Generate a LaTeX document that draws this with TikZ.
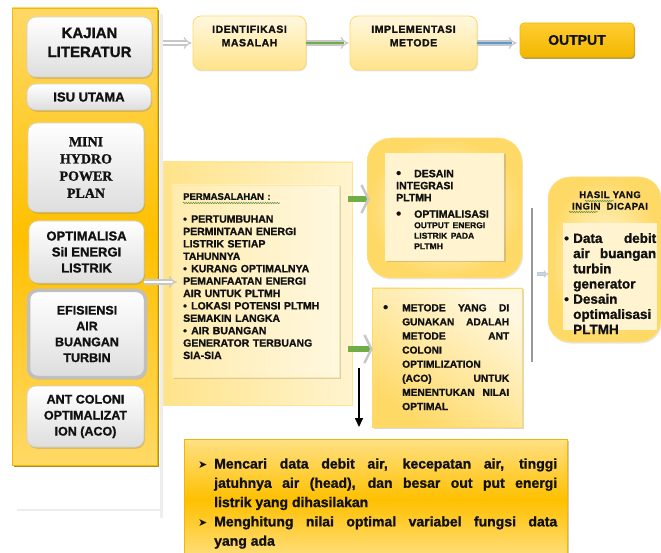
\documentclass[tikz,border=0pt]{standalone}
\usepackage{fontspec}
\setmainfont{Liberation Sans}[BoldFont={Liberation Sans Bold}]
\newfontfamily\serifbf{Liberation Serif Bold}[FakeBold=1.2]
\newfontfamily\dejavu{DejaVu Sans}
\newfontfamily\spaced{Liberation Sans Bold}[LetterSpace=5,FakeBold=1.2]
\newfontfamily\sansbold{Liberation Sans Bold}[FakeBold=1.2]
\usetikzlibrary{shadows,arrows.meta,decorations.pathmorphing}
\newcommand\fz[2]{\fontsize{#1}{#2}\selectfont}
\newcommand\bitem[1]{\par\hangindent=#1\hangafter=1\noindent\makebox[#1][l]{\textbullet}}
\newcommand\Bitem[1]{\par\hangindent=#1\hangafter=1\noindent\makebox[#1][l]{\raisebox{-0.5pt}{\fontsize{14}{14}\selectfont\textbullet}}}
\newcommand\aitem[1]{\par\hangindent=#1\hangafter=1\noindent\makebox[#1][l]{{\dejavu\fz{11}{11}➤}}}
\definecolor{or1}{HTML}{FFD966}
\definecolor{or2}{HTML}{FFC000}
\definecolor{or3}{HTML}{F2B700}
\definecolor{dkgold}{HTML}{9C7A00}
\definecolor{ly1}{HTML}{FFF8E0}
\definecolor{ly2}{HTML}{FFE38A}
\definecolor{lyc}{HTML}{FFF4CF}
\definecolor{grn}{HTML}{70AD47}
\definecolor{blu}{HTML}{5B9BD5}
\definecolor{txt}{HTML}{111111}
\begin{document}
\begin{tikzpicture}[x=1pt,y=-1pt,
  colbox/.style={rectangle, top color=or1, bottom color=or1, middle color=or2, draw=or3, line width=0.5pt,
    drop shadow={shadow xshift=1.8pt, shadow yshift=-1.8pt, opacity=0.85, fill=dkgold}},
  graybox/.style={rectangle, rounded corners=9pt, top color=white, bottom color=black!13, draw=black!18, line width=0.6pt,
    drop shadow={shadow xshift=1pt, shadow yshift=-1.8pt, opacity=0.3}, align=center, text=txt, inner sep=0pt},
  ybox/.style={rectangle, rounded corners=8pt, top color=ly1, bottom color=ly2, draw=or1, line width=0.8pt,
    drop shadow={shadow xshift=1pt, shadow yshift=-1.5pt, opacity=0.2}},
  obox/.style={rectangle, rounded corners=4pt, top color=or2!80!white, bottom color=or3, draw=or3, line width=0.6pt,
    drop shadow={shadow xshift=1.2pt, shadow yshift=-2pt, opacity=0.7, fill=dkgold}},
  darrow/.style={draw=black!22, double=#1, double distance=2.8pt, line width=1.2pt, -{Implies}},
  fatarrow/.style={draw=grn, line width=6pt, -{Straight Barb[length=7pt,width=28pt,line width=2.4pt,color=black!22]}},
  txtnode/.style={inner sep=0pt, anchor=north west, align=left, text=txt},
  wavy/.style={draw=grn!80!black, line width=0.5pt, decorate, decoration={snake, amplitude=0.7pt, segment length=2.4pt}},
  framel/.style={draw=black!7, line width=2.5pt},
]
\useasboundingbox (0,0) rectangle (661,553);
\fill[white] (0,0) rectangle (661,553);

% ---------- left column ----------
\draw[framel] (17,510) -- (161.5,510);
\draw[framel] (161.5,14) -- (161.5,518);
\node[colbox, minimum width=145pt, minimum height=457pt] (col) at (84.5,236.5) {};

\node[graybox, minimum width=125pt, minimum height=60pt] (kajian) at (89.5,47) {};
\node[inner sep=0pt, align=center, font=\sansbold\fz{15}{19}, text=txt] (kajianT) at (89.5,42.5) {KAJIAN\\LITERATUR};
\node[graybox, minimum width=124pt, minimum height=26pt, font=\sansbold\fz{13}{15}] (isu) at (89,97) {ISU UTAMA};
\node[graybox, minimum width=116pt, minimum height=89pt, font=\serifbf\fz{14}{17.2}] (mini) at (86,167.5) {MINI\\HYDRO\\POWER\\PLAN};
\node[graybox, minimum width=115pt, minimum height=62pt, font=\sansbold\fz{13}{16}] (optim) at (86.5,252) {OPTIMALISA\\SiI ENERGI\\LISTRIK};
\node[graybox, draw=black!25, line width=3.5pt, minimum width=117pt, minimum height=87pt, font=\sansbold\fz{12.5}{15.8}] (efis) at (87,334) {EFISIENSI\\AIR\\BUANGAN\\TURBIN};
\node[graybox, minimum width=117pt, minimum height=61pt, font=\sansbold\fz{12.5}{16}] (ant) at (85.5,416.5) {ANT COLONI\\OPTIMALIZAT\\ION (ACO)};

% ---------- top row ----------
\node[ybox, minimum width=113pt, minimum height=54pt] (ident) at (249.5,43) {};
\node[inner sep=0pt, align=center, font=\spaced\fz{10.5}{13.5}, text=txt] (identT) at (249.5,36) {IDENTIFIKASI\\MASALAH};
\node[ybox, minimum width=127pt, minimum height=54pt] (impl) at (413.5,43) {};
\node[inner sep=0pt, align=center, font=\spaced\fz{10.5}{13.5}, text=txt] (implT) at (413.5,36) {IMPLEMENTASI\\METODE};
\node[obox, minimum width=114pt, minimum height=34pt, font=\sansbold\fz{14}{16}, text=txt] (out) at (577,40) {OUTPUT};

\draw[darrow=white] ([xshift=11pt]kajian.east |- ident.west) -- ([xshift=-1pt]ident.west);
\draw[darrow=grn] (ident.east) -- ([xshift=-1pt]impl.west);
\draw[darrow=blu] (impl.east) -- ([xshift=-3pt]out.west |- impl.east);

% ---------- middle ----------
\node[rectangle, left color=ly2, right color=lyc, draw=or1!70, line width=0.5pt, minimum width=189pt, minimum height=243pt] (bg) at (257.5,283.5) {};
\node[rectangle, left color=ly2!70!white, right color=ly1, draw=or1!60, line width=0.4pt, minimum width=167pt, minimum height=192pt,
  drop shadow={shadow xshift=1.5pt, shadow yshift=-1.5pt, opacity=0.3}] (prob) at (255.5,281) {};
\node[txtnode, text width=150pt, font=\sansbold\fz{10.5}{12.4}] (probT) at (183,193)
 {{\fz{9.5}{12.4}PERMASALAHAN :}\par\vspace{10.4pt}%
  \bitem{8pt}PERTUMBUHAN\\PERMINTAAN ENERGI\\LISTRIK SETIAP\\TAHUNNYA%
  \bitem{8pt}KURANG OPTIMALNYA\\PEMANFAATAN ENERGI\\AIR UNTUK PLTMH%
  \bitem{8pt}LOKASI POTENSI PLTMH\\SEMAKIN LANGKA%
  \bitem{8pt}AIR BUANGAN\\GENERATOR TERBUANG\\SIA-SIA\par};
\draw[wavy] (183,203) -- (280,203);
\draw[darrow=white] ([yshift=-30pt]optim.east) -- ([yshift=-30pt,xshift=5pt]optim.east -| prob.west);

% top-right design box
\node[rectangle, rounded corners=24pt, inner color=ly1, outer color=or1, draw=or1!80, line width=0.5pt,
  minimum width=155pt, minimum height=140pt, drop shadow={shadow xshift=1pt, shadow yshift=-1.5pt, opacity=0.2}] (trbox) at (444.5,208) {};
\node[rectangle, fill=lyc, minimum width=119pt, minimum height=108pt,
  drop shadow={shadow xshift=1.5pt, shadow yshift=-1.5pt, opacity=0.3}] (tri) at (444.5,207) {};
\node[txtnode, text width=105pt, font=\sansbold\fz{10.5}{12}] (triT) at (396,165)
 {\Bitem{18pt}DESAIN\\INTEGRASI\\PLTMH\par\vspace{4.5pt}%
  \Bitem{18pt}OPTIMALISASI\par
  {\fz{8.5}{10.5}\leftskip=18pt\noindent OUTPUT ENERGI\\LISTRIK PADA\\PLTMH\par}};

% metode box
\node[rectangle, top color=ly1, bottom color=or1, shading angle=-35, draw=or1, line width=0.5pt,
  minimum width=150pt, minimum height=139pt, drop shadow={shadow xshift=1.5pt, shadow yshift=-1.5pt, opacity=0.3}] (metode) at (447,357.5) {};
\node[txtnode, text width=126pt, align=justify, font=\sansbold\fz{10.2}{14.1}] (metodeT) at (383,297)
 {\Bitem{19pt}METODE YANG DI\linebreak GUNAKAN ADALAH\linebreak METODE ANT\linebreak COLONI\\OPTIMLIZATION\\(ACO) UNTUK\linebreak MENENTUKAN NILAI\linebreak OPTIMAL\par};

\coordinate (g1) at (348,199);
\coordinate (g2) at (348,349);
\draw[fatarrow] (g1) -- ([xshift=3pt]trbox.west |- g1);
\draw[fatarrow] (g2) -- ([xshift=1pt]metode.west |- g2);
\coordinate (d1) at (359,368);
\coordinate (d2) at (359,427);
\draw[line width=1.6pt, -{Triangle[length=9pt,width=8pt]}] (d1) -- (d2);

% right result box
\coordinate (v1) at (532,208);
\coordinate (v2) at (532,362);
\draw[draw=black!40, line width=2.5pt] (v1) -- (v2);
\node[rectangle, rounded corners=22pt, inner color=ly1, outer color=or1, draw=or1!80, line width=0.5pt,
  minimum width=113pt, minimum height=165pt, drop shadow={shadow xshift=1pt, shadow yshift=-1.5pt, opacity=0.2}] (hasil) at (604.5,259.5) {};
\node[rectangle, fill=lyc, minimum width=94pt, minimum height=107pt] (hasilIn) at (610,276.5) {};
\node[inner sep=0pt, align=center, font=\spaced\fz{9.5}{11.5}, text=txt] (hasilT) at (610,200.5) {HASIL YANG\\INGIN\ \ DICAPAI};
\draw[wavy] (585,201) -- (614,201);
\draw[wavy] (569,212) -- (598,212);
\node[txtnode, text width=92pt, align=justify, font=\sansbold\fz{13.5}{15.2}] (hasilL) at (564,227.5)
 {\bitem{9pt}Data debit\linebreak air buangan\linebreak turbin\\generator%
  \bitem{9pt}Desain\\optimalisasi\\PLTMH\par};
\coordinate (s1) at (537,274);
\draw[darrow=blu!40, double distance=1.8pt, line width=0.8pt] (s1) -- ([xshift=1pt]hasil.west |- s1);

% ---------- bottom box ----------
\node[rectangle, top color=or1!80!white, bottom color=or1!80!white, middle color=or2, draw=or3, line width=0.6pt,
  minimum width=383pt, minimum height=122pt, drop shadow={shadow xshift=1.5pt, shadow yshift=-1.5pt, opacity=0.4}] (bottom) at (375.5,500) {};
\node[txtnode, text width=359pt, align=justify, font=\sansbold\fz{14}{19.3}] (bottomT) at (198,449)
 {\aitem{16pt}Mencari data debit air, kecepatan air, tinggi\linebreak jatuhnya air (head), dan besar out put energi\linebreak listrik yang dihasilakan%
  \aitem{16pt}Menghitung nilai optimal variabel fungsi data\linebreak yang ada\par};
\end{tikzpicture}
\end{document}
